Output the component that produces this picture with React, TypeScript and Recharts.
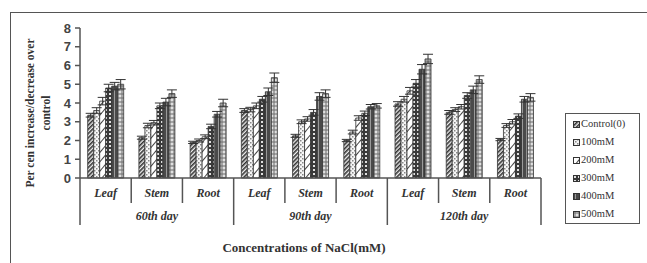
import React from 'react';
import { BarChart, Bar, XAxis, YAxis, ErrorBar } from 'recharts';

const parts = ['Leaf', 'Stem', 'Root', 'Leaf', 'Stem', 'Root', 'Leaf', 'Stem', 'Root'];
const days = ['60th day', '90th day', '120th day'];
const seriesNames = ['Control(0)', '100mM', '200mM', '300mM', '400mM', '500mM'];
const yTicks = [0, 1, 2, 3, 4, 5, 6, 7, 8];

const control = [3.35, 2.15, 1.9, 3.6, 2.25, 2.0, 3.95, 3.5, 2.05];
const mM100 = [3.6, 2.8, 2.0, 3.65, 3.0, 2.45, 4.2, 3.65, 2.8];
const mM200 = [4.1, 2.95, 2.2, 3.85, 3.15, 3.2, 4.65, 3.8, 3.0];
const mM300 = [4.8, 3.85, 2.75, 4.2, 3.5, 3.45, 5.05, 4.4, 3.3];
const mM400 = [4.9, 4.05, 3.4, 4.6, 4.35, 3.8, 5.8, 4.7, 4.2];
const mM500 = [5.0, 4.5, 4.0, 5.35, 4.5, 3.85, 6.35, 5.25, 4.3];

const err0 = [0.1, 0.08, 0.06, 0.1, 0.08, 0.06, 0.12, 0.1, 0.06];
const err1 = [0.15, 0.12, 0.08, 0.12, 0.1, 0.1, 0.15, 0.1, 0.1];
const err2 = [0.2, 0.12, 0.1, 0.15, 0.12, 0.12, 0.18, 0.12, 0.12];
const err3 = [0.2, 0.15, 0.12, 0.15, 0.15, 0.12, 0.2, 0.15, 0.12];
const err4 = [0.2, 0.2, 0.15, 0.2, 0.2, 0.12, 0.25, 0.2, 0.15];
const err5 = [0.25, 0.2, 0.2, 0.25, 0.2, 0.12, 0.25, 0.2, 0.2];

const values = [control, mM100, mM200, mM300, mM400, mM500];
const errors = [err0, err1, err2, err3, err4, err5];

const data = parts.map((p, i) => {
  const row: any = { part: p, day: days[Math.floor(i / 3)] };
  values.forEach((v, s) => {
    row['s' + s] = v[i];
    row['e' + s] = errors[s][i];
  });
  return row;
});

const W = 647;
const H = 263;
const M = { top: 28, right: 106, bottom: 35, left: 50 };
const Y_W = 30;
const X_H = 50;
const PLOT_W = W - M.left - Y_W - M.right;
const HALF = PLOT_W / parts.length / 2;

const serif = '"Liberation Serif", "Times New Roman", serif';
const sans = '"Liberation Sans", Arial, sans-serif';
const axisColor = '#555';

const XTick = (props: any) => {
  const { x, y, payload } = props;
  const i = payload.index;
  const major = i % 3 === 0;
  const last = i === parts.length - 1;
  return (
    <g>
      <line x1={x - HALF} x2={x - HALF} y1={y} y2={y + (major ? 47 : 25)} stroke={axisColor} strokeWidth={1.5} />
      {last && <line x1={x + HALF} x2={x + HALF} y1={y} y2={y + 47} stroke={axisColor} strokeWidth={1.5} />}
      <text x={x} y={y + 19} textAnchor="middle" fontFamily={serif} fontStyle="italic" fontWeight="bold" fontSize={12} fill="#333">
        {payload.value}
      </text>
      {i % 3 === 1 && (
        <text x={x} y={y + 42} textAnchor="middle" fontFamily={serif} fontStyle="italic" fontWeight="bold" fontSize={12} fill="#333">
          {days[Math.floor(i / 3)]}
        </text>
      )}
    </g>
  );
};

const Patterns = () => (
  <svg width={0} height={0} style={{ position: 'absolute' }}>
    <defs>
      <pattern id="p0" width="3" height="3" patternUnits="userSpaceOnUse" patternTransform="rotate(45)">
        <rect width="3" height="3" fill="#f0f0f0" />
        <rect width="1.6" height="3" fill="#333" />
      </pattern>
      <pattern id="p1" width="4" height="4" patternUnits="userSpaceOnUse">
        <rect width="4" height="4" fill="#f6f6f6" />
        <rect x="0" y="0" width="1.5" height="1.5" fill="#888" />
        <rect x="2" y="2" width="1.5" height="1.5" fill="#888" />
      </pattern>
      <pattern id="p2" width="6" height="6" patternUnits="userSpaceOnUse" patternTransform="rotate(40)">
        <rect width="6" height="6" fill="#fff" />
        <rect width="1" height="6" fill="#444" />
      </pattern>
      <pattern id="p3" width="4" height="4" patternUnits="userSpaceOnUse">
        <rect width="4" height="4" fill="#3a3a3a" />
        <rect x="1" y="1" width="2" height="2" fill="#e0e0e0" />
      </pattern>
      <pattern id="p4" width="4" height="4" patternUnits="userSpaceOnUse">
        <rect width="4" height="4" fill="#4a4a4a" />
        <rect x="2" y="0" width="1" height="4" fill="#9a9a9a" />
      </pattern>
      <pattern id="p5" width="4" height="4" patternUnits="userSpaceOnUse">
        <rect width="4" height="4" fill="#e0e0e0" />
        <circle cx="2" cy="2" r="1.2" fill="none" stroke="#444" strokeWidth="0.8" />
      </pattern>
    </defs>
  </svg>
);

const LegendBox = () => (
  <div
    style={{
      position: 'absolute',
      left: 565,
      top: 113,
      border: '1.5px solid #555',
      width: 75,
      height: 111,
      boxSizing: 'border-box',
      padding: '1px 0 0 7px',
      fontFamily: serif,
      fontSize: 10.5,
      color: '#333',
      background: '#fff',
    }}
  >
    {seriesNames.map((n, s) => (
      <div key={n} style={{ display: 'flex', alignItems: 'center', height: 18, lineHeight: '18px' }}>
        <svg width={7} height={7} style={{ marginRight: 1 }}>
          <rect x={0.5} y={0.5} width={6} height={6} fill={`url(#p${s})`} stroke="#333" strokeWidth={1} />
        </svg>
        <span>{n}</span>
      </div>
    ))}
  </div>
);

export default function App() {
  return (
    <div style={{ position: 'absolute', left: 0, top: 0, width: W, height: H, background: '#fff', overflow: 'hidden' }}>
      <Patterns />
      <div
        style={{
          position: 'absolute',
          left: 10,
          top: 12,
          width: W,
          height: H,
          borderLeft: '1.5px solid #555',
          borderTop: '1.5px solid #555',
        }}
      />
      <div style={{ position: 'absolute', left: 0, top: 0 }}>
        <BarChart width={W} height={H} data={data} margin={M} barCategoryGap="15%" barGap={0}>
          <XAxis
            dataKey="part"
            height={X_H}
            tick={<XTick />}
            tickLine={false}
            tickSize={0}
            tickMargin={0}
            interval={0}
            axisLine={{ stroke: axisColor, strokeWidth: 1.5 }}
          />
          <YAxis
            width={Y_W}
            domain={[0, 8]}
            ticks={yTicks}
            interval={0}
            tickSize={5}
            tickMargin={4}
            axisLine={{ stroke: axisColor, strokeWidth: 1.5 }}
            tickLine={{ stroke: axisColor, strokeWidth: 1.5 }}
            tick={{ fontFamily: sans, fontWeight: 'bold', fontSize: 13, fill: '#444' }}
          />
          {seriesNames.map((n, s) => (
            <Bar key={n} dataKey={'s' + s} name={n} fill={`url(#p${s})`} stroke="#333" strokeWidth={0.8} isAnimationActive={false}>
              <ErrorBar dataKey={'e' + s} width={5} stroke="#333" strokeWidth={1} direction="y" />
            </Bar>
          ))}
        </BarChart>
      </div>
      <LegendBox />
      <div
        style={{
          position: 'absolute',
          left: 38,
          top: 113,
          transform: 'translate(-50%, -50%) rotate(-90deg)',
          fontFamily: serif,
          fontWeight: 'bold',
          fontSize: 11.5,
          color: '#333',
          textAlign: 'center',
          lineHeight: '16px',
          whiteSpace: 'nowrap',
        }}
      >
        Per cen increase/decrease over
        <br />
        control
      </div>
      <div
        style={{
          position: 'absolute',
          left: 304,
          top: 240,
          transform: 'translateX(-50%)',
          fontFamily: serif,
          fontWeight: 'bold',
          fontSize: 13,
          color: '#333',
          whiteSpace: 'nowrap',
        }}
      >
        Concentrations of NaCl(mM)
      </div>
    </div>
  );
}
